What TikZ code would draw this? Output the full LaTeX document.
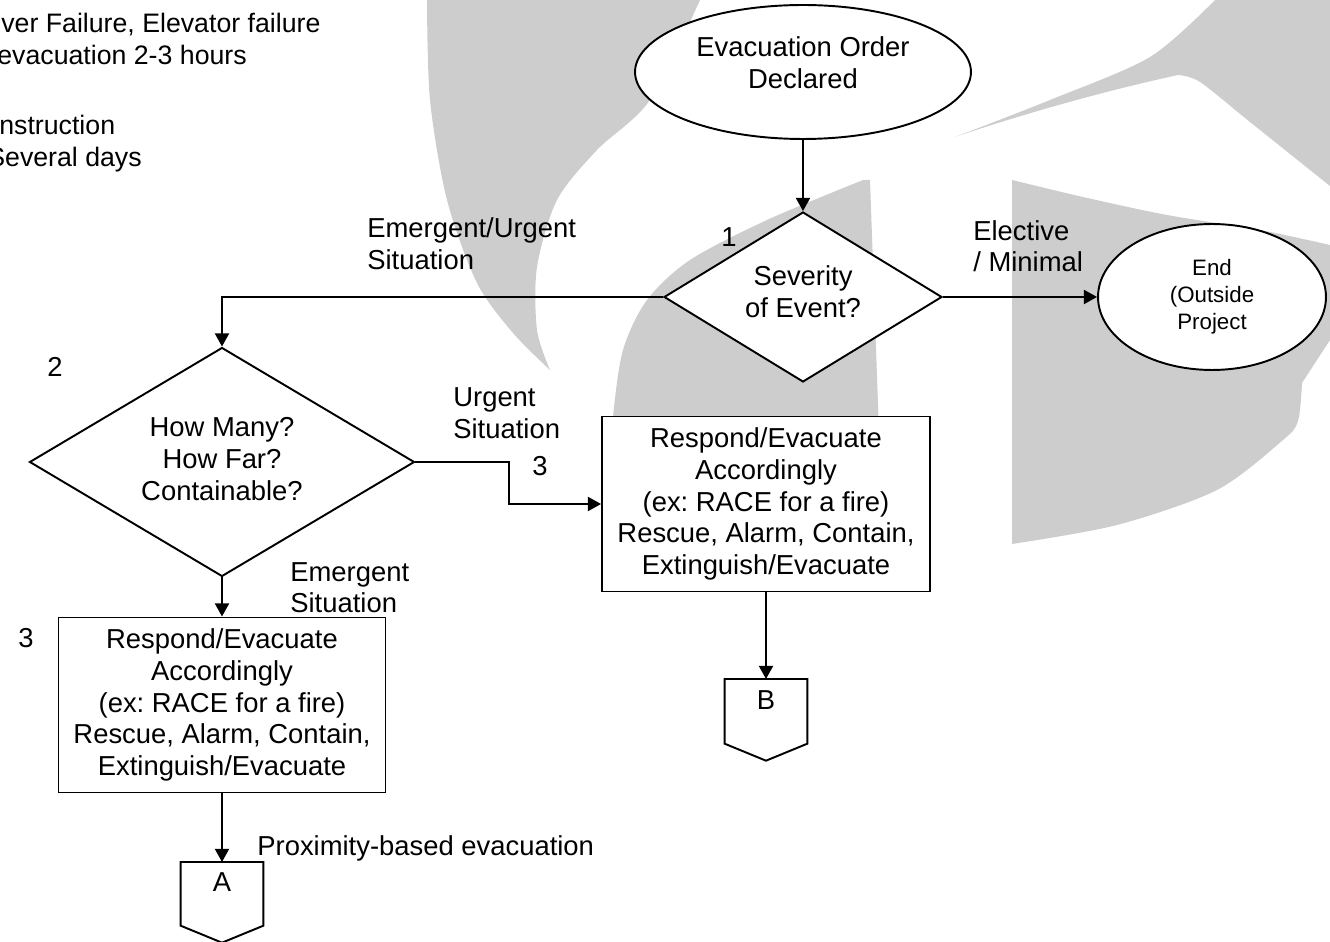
\documentclass[tikz,border=0pt]{standalone}
\usepackage{fontspec}
\setmainfont{Liberation Sans}
\usetikzlibrary{shapes.geometric,arrows.meta}
\definecolor{wm}{RGB}{205,205,205}
\newcommand\mainsz{\fontsize{15.6pt}{18.1pt}\selectfont}
\newcommand\notesz{\fontsize{15.2pt}{18pt}\selectfont}
\newcommand\smallsz{\fontsize{12.7pt}{15.3pt}\selectfont}
\frenchspacing
\begin{document}
\begin{tikzpicture}[x=0.02cm,y=-0.02cm,
  every node/.style={inner sep=0pt},
  ln/.style={line width=1.1pt},
  arr/.style={ln,-{Triangle[length=7.5pt,width=8pt]}},
  shp/.style={draw,ln,fill=white,align=center,font=\mainsz},
  lbl/.style={font=\mainsz,anchor=base west},
  note/.style={font=\notesz,anchor=base west},
  num/.style={font=\mainsz,anchor=base}]
\useasboundingbox (0,0) rectangle (1330,942);
\begin{scope}
\clip (0,0) rectangle (1330,942);
% watermark
\fill[wm] plot[smooth] coordinates {(427,0) (430,100) (447,200) (477,283) (513,333) (550,370)}
  -- plot[smooth] coordinates {(550,370) (537,330) (537,267) (557,200) (597,150) (650,100) (700,0)} -- cycle;
\fill[wm] (870,180) -- (880,460) -- (612,460)
  -- plot[smooth] coordinates {(612,460) (613,417) (623,350) (647,300) (690,260) (767,220) (863,180)} -- cycle;
\fill[wm] plot[smooth] coordinates {(1012,180) (1083,197) (1167,215) (1260,230) (1330,245)}
  -- (1330,340)
  -- plot[smooth] coordinates {(1302,383) (1298,421) (1283,440) (1217,490) (1117,525) (1012,544)} -- cycle;
\fill[wm] plot[smooth] coordinates {(955,137) (1050,100) (1150,57) (1215,0)}
  -- (1330,0) -- (1330,186)
  -- plot[smooth] coordinates {(1330,186) (1250,122) (1200,82) (1178,75)}
  .. controls (1100,92) and (1020,115) .. (955,137) -- cycle;
% top-left notes
\node[note] (t1) at (1,33) {ver Failure, Elevator failure};
\node[note] (t2) at (-3,65) {evacuation 2-3 hours};
\node[note] (t3) at (-1,135) {nstruction};
\node[note] (t4) at (-13,167) {Several days};
\end{scope}

% shapes
\node[shp,ellipse,minimum width=6.72cm,minimum height=2.68cm] (order) at (803,72) {};
\node[font=\mainsz,align=center] (ordertxt) at (803,63) {Evacuation Order\\Declared};
\node[shp,diamond,aspect=1.6,minimum width=5.56cm,minimum height=3.4cm] (sev) at (803,297) {};
\node[font=\mainsz,align=center] (sevtxt) at (803,292) {Severity\\of Event?};
\node[shp,ellipse,minimum width=4.56cm,minimum height=2.92cm,font=\smallsz] (endn) at (1212,297) {End\\(Outside\\Project};
\node[shp,diamond,aspect=1.6,minimum width=7.7cm,minimum height=4.58cm] (many) at (222,462) {};
\node[font=\mainsz,align=center] (manytxt) at (222,459) {How Many?\\How Far?\\Containable?};
\node[shp,rectangle,minimum width=6.56cm,minimum height=3.5cm] (boxR) at (766,504) {Respond/Evacuate\\Accordingly\\(ex: RACE for a fire)\\Rescue, Alarm, Contain,\\Extinguish/Evacuate};
\node[shp,rectangle,minimum width=6.54cm,minimum height=3.5cm] (boxL) at (222,705) {Respond/Evacuate\\Accordingly\\(ex: RACE for a fire)\\Rescue, Alarm, Contain,\\Extinguish/Evacuate};

% off-page connectors
\node[minimum width=1.64cm,minimum height=1.28cm,anchor=north] (offB) at (766,679) {};
\draw[ln,fill=white] (offB.north west) -- (offB.north east) -- (offB.south east) -- ([yshift=-0.34cm]offB.south) -- (offB.south west) -- cycle;
\node[font=\mainsz] (lblB) at (766,700) {B};
\node[minimum width=1.64cm,minimum height=1.26cm,anchor=north] (offA) at (222,862) {};
\draw[ln,fill=white] (offA.north west) -- (offA.north east) -- (offA.south east) -- ([yshift=-0.34cm]offA.south) -- (offA.south west) -- cycle;
\node[font=\mainsz] (lblA) at (222,882) {A};

% connectors
\draw[arr] (order.south) -- (sev.north);
\draw[arr] (sev.west) -| (many.north);
\draw[arr] (sev.east) -- (endn.west);
\draw[arr] (many.east) -- ++(94,0) |- (boxR.west);
\draw[arr] (many.south) -- (boxL.north);
\draw[arr] (boxR.south) -- (offB.north);
\draw[arr] (boxL.south) -- (offA.north);

% labels
\node[lbl] (l1) at (367,238) {Emergent/Urgent};
\node[lbl] (l2) at (367,270) {Situation};
\node[lbl] (l3) at (973,241) {Elective};
\node[lbl] (l4) at (973,272) {/ Minimal};
\node[num] (n1) at (729,247) {1};
\node[num] (n2) at (55,377) {2};
\node[lbl] (l5) at (453,407) {Urgent};
\node[lbl] (l6) at (453,439) {Situation};
\node[num] (n3a) at (540,476) {3};
\node[lbl] (l7) at (290,582) {Emergent};
\node[lbl] (l8) at (290,613) {Situation};
\node[num] (n3b) at (26,648) {3};
\node[lbl] (l9) at (257,855) {Proximity-based evacuation};
\end{tikzpicture}
\end{document}
